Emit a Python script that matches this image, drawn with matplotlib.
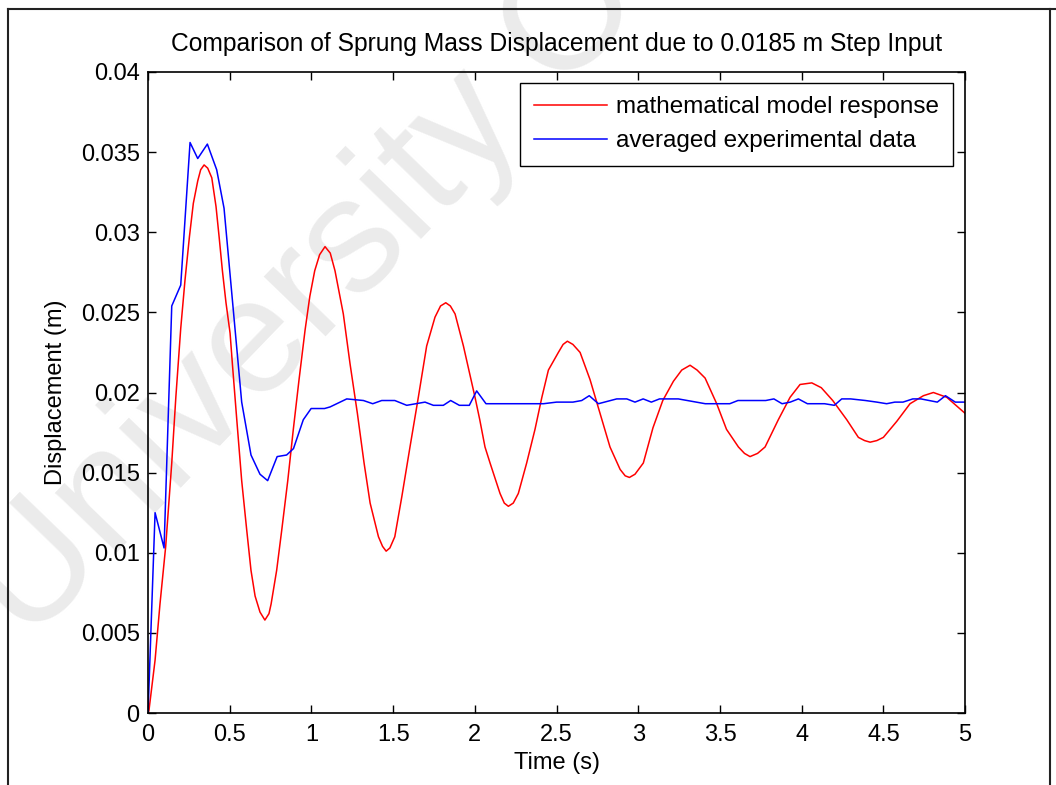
import matplotlib
matplotlib.use('Agg')
import matplotlib.pyplot as plt
from matplotlib.lines import Line2D

plt.rcParams['font.family'] = ['Liberation Sans', 'DejaVu Sans']

# mathematical model response
red_t = [0.0, 0.006, 0.043, 0.073, 0.108, 0.145, 0.17, 0.20, 0.226, 0.253,
         0.277, 0.304, 0.322, 0.343, 0.365, 0.39, 0.416, 0.435, 0.455, 0.477,
         0.502, 0.516, 0.543, 0.573, 0.604, 0.63, 0.655, 0.685, 0.715, 0.74,
         0.753, 0.787, 0.818, 0.855, 0.889, 0.924, 0.961, 0.99, 1.02, 1.05,
         1.083, 1.115, 1.144, 1.195, 1.236, 1.281, 1.322, 1.359, 1.41, 1.435,
         1.457, 1.48, 1.51, 1.553, 1.603, 1.654, 1.705, 1.756, 1.79, 1.822,
         1.85, 1.879, 1.93, 2.001, 2.03, 2.062, 2.093, 2.154, 2.18, 2.205,
         2.235, 2.266, 2.317, 2.368, 2.41, 2.45, 2.511, 2.54, 2.566, 2.6,
         2.644, 2.705, 2.766, 2.827, 2.889, 2.92, 2.946, 2.98, 3.031, 3.09,
         3.15, 3.215, 3.266, 3.317, 3.36, 3.409, 3.48, 3.54, 3.613, 3.65,
         3.684, 3.73, 3.776, 3.857, 3.929, 3.99, 4.062, 4.12, 4.19, 4.276,
         4.347, 4.385, 4.419, 4.46, 4.5, 4.582, 4.663, 4.745, 4.806, 4.888,
         5.0]
red_v = [0.0, 0.0002, 0.0033, 0.0068, 0.0104, 0.0156, 0.0197, 0.0240, 0.0270, 0.0297,
         0.0318, 0.0332, 0.0339, 0.0342, 0.0340, 0.0334, 0.0316, 0.0297, 0.0276, 0.0256,
         0.0237, 0.0218, 0.0183, 0.0145, 0.0114, 0.0089, 0.0073, 0.0063, 0.0058, 0.0062,
         0.0068, 0.0089, 0.0114, 0.0145, 0.0177, 0.0208, 0.0239, 0.0260, 0.0276, 0.0286,
         0.0291, 0.0287, 0.0276, 0.0249, 0.0218, 0.0187, 0.0156, 0.0131, 0.0110, 0.0104,
         0.0101, 0.0103, 0.0110, 0.0135, 0.0166, 0.0197, 0.0229, 0.0247, 0.0254, 0.0256,
         0.0254, 0.0249, 0.0229, 0.0197, 0.0183, 0.0166, 0.0156, 0.0137, 0.0131, 0.0129,
         0.0131, 0.0137, 0.0156, 0.0177, 0.0197, 0.0214, 0.0225, 0.0230, 0.0232, 0.0230,
         0.0225, 0.0208, 0.0187, 0.0166, 0.0152, 0.0148, 0.0147, 0.0149, 0.0156, 0.0178,
         0.0195, 0.0207, 0.0214, 0.0217, 0.0214, 0.0209, 0.0193, 0.0177, 0.0166, 0.0162,
         0.0160, 0.0162, 0.0166, 0.0183, 0.0197, 0.0205, 0.0206, 0.0203, 0.0195, 0.0183,
         0.0172, 0.0170, 0.0169, 0.0170, 0.0172, 0.0182, 0.0193, 0.0198, 0.0200, 0.0197,
         0.0187]

# averaged experimental data
blue_t = [0.0, 0.043, 0.098, 0.145, 0.2, 0.257, 0.304, 0.363, 0.42, 0.465,
          0.573, 0.63, 0.685, 0.732, 0.79, 0.848, 0.89, 0.95, 0.998, 1.08,
          1.114, 1.216, 1.318, 1.375, 1.43, 1.51, 1.583, 1.695, 1.746, 1.807,
          1.852, 1.905, 1.966, 2.011, 2.068, 2.42, 2.50, 2.60, 2.654, 2.70,
          2.756, 2.868, 2.93, 2.98, 3.03, 3.08, 3.13, 3.245, 3.41, 3.56,
          3.61, 3.78, 3.83, 3.88, 3.93, 3.98, 4.035, 4.14, 4.2, 4.245,
          4.30, 4.39, 4.46, 4.52, 4.57, 4.62, 4.68, 4.73, 4.83, 4.88,
          4.94, 5.0]
blue_v = [0.0, 0.0125, 0.0103, 0.0254, 0.0267, 0.0356, 0.0346, 0.0355, 0.0339, 0.0315,
          0.0194, 0.0161, 0.0149, 0.0145, 0.0160, 0.0161, 0.0165, 0.0183, 0.0190, 0.0190,
          0.0191, 0.0196, 0.0195, 0.0193, 0.0195, 0.0195, 0.0192, 0.0194, 0.0192, 0.0192,
          0.0195, 0.0192, 0.0192, 0.0201, 0.0193, 0.0193, 0.0194, 0.0194, 0.0195, 0.0198,
          0.0193, 0.0196, 0.0196, 0.0194, 0.0196, 0.0194, 0.0196, 0.0196, 0.0193, 0.0193,
          0.0195, 0.0195, 0.0196, 0.0193, 0.0194, 0.0196, 0.0193, 0.0193, 0.0192, 0.0196,
          0.0196, 0.0195, 0.0194, 0.0193, 0.0194, 0.0194, 0.0196, 0.0196, 0.0194, 0.0198,
          0.0194, 0.0194]

x_ticks = [0, 0.5, 1, 1.5, 2, 2.5, 3, 3.5, 4, 4.5, 5]
x_labels = ['0', '0.5', '1', '1.5', '2', '2.5', '3', '3.5', '4', '4.5', '5']
y_ticks = [0, 0.005, 0.01, 0.015, 0.02, 0.025, 0.03, 0.035, 0.04]
y_labels = ['0', '0.005', '0.01', '0.015', '0.02', '0.025', '0.03', '0.035', '0.04']

fig = plt.figure(figsize=(10.56, 7.85), dpi=100, facecolor='white')

# watermark, behind the (transparent) axes
fig.text(0.0265, 0.178, 'University Of Cape Town', fontsize=118, color='#ebebeb',
         rotation=46, rotation_mode='anchor', ha='left', va='baseline',
         zorder=-1)

# page frame
for xs, ys in (([0.008, 0.008], [0.0, 0.9885]), ([0.008, 1.0], [0.9885, 0.9885]),
               ([0.9945, 0.9945], [0.0, 0.9885])):
    fig.add_artist(Line2D(xs, ys, color='#222222', lw=1.5))

ax = fig.add_axes([0.1402, 0.0917, 0.7737, 0.8166])
ax.set_facecolor('none')
ax.plot(red_t, red_v, color='red', lw=1.1, label='mathematical model response')
ax.plot(blue_t, blue_v, color='blue', lw=1.1, label='averaged experimental data')

ax.set_xlim(0, 5)
ax.set_ylim(0, 0.04)
ax.set_xticks(x_ticks)
ax.set_xticklabels(x_labels)
ax.set_yticks(y_ticks)
ax.set_yticklabels(y_labels)
ax.tick_params(direction='in', length=6, width=1, top=True, right=True,
               labelsize=17)
ax.tick_params(axis='x', pad=8)
ax.tick_params(axis='y', pad=6)
for sp in ax.spines.values():
    sp.set_linewidth(1.2)

ax.set_title('Comparison of Sprung Mass Displacement due to 0.0185 m Step Input',
             fontsize=17.7, pad=15)
ax.set_xlabel('Time (s)', fontsize=17, labelpad=4)
ax.set_ylabel('Displacement (m)', fontsize=17, labelpad=10)

leg = ax.legend(loc='upper right', bbox_to_anchor=(0.985, 0.983),
                fancybox=False, edgecolor='black', framealpha=1, fontsize=17.5,
                handlelength=3.0, handletextpad=0.4, labelspacing=0.5,
                borderpad=0.55, borderaxespad=0)
leg.get_frame().set_linewidth(1.0)

fig.savefig('out.png', dpi=100)
